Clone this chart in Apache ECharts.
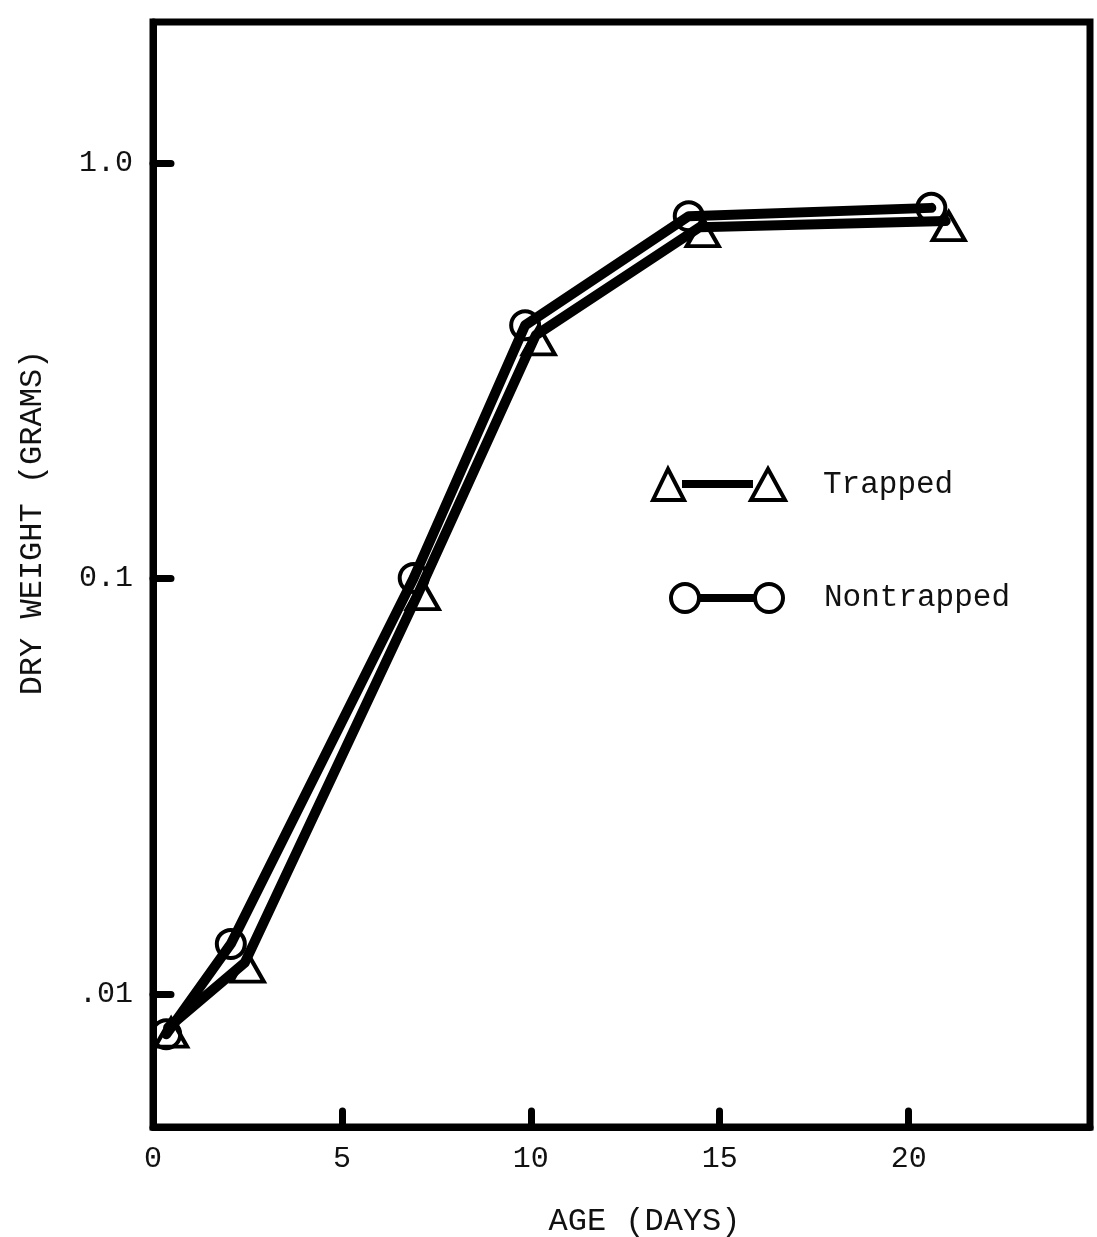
<!DOCTYPE html>
<html><head><meta charset="utf-8">
<script src="https://cdn.jsdelivr.net/npm/echarts@6/dist/echarts.min.js"></script>
<style>html,body{margin:0;padding:0;background:#fff}#c{width:1097px;height:1237px}</style>
</head><body><div id="c"></div>
<script>
// Data
const trappedDays = [0.4, 2.43, 7.06, 10.13, 14.47, 20.98];
const trappedWeight = [0.0083, 0.0119, 0.0938, 0.385, 0.701, 0.725];
const nontrappedDays = [0.35, 2.06, 6.9, 9.85, 14.18, 20.6];
const nontrappedWeight = [0.0080, 0.0132, 0.1003, 0.407, 0.745, 0.78];
const seriesNames = ['Trapped', 'Nontrapped'];
const xTickValues = [0, 5, 10, 15, 20];
const yTickValues = [0.01, 0.1, 1];
const yTickLabels = ['.01', '0.1', '1.0'];
const xAxisTitle = 'AGE (DAYS)';
const yAxisTitle = 'DRY WEIGHT (GRAMS)';

const FONT = "'Liberation Mono', 'DejaVu Sans Mono', monospace";
const INK = '#000';

function pairs(xs, ys) { return xs.map((x, i) => [x, ys[i]]); }
function yLabel(v) {
  let best = 0, bd = Infinity;
  yTickValues.forEach((t, i) => { const d = Math.abs(Math.log10(v) - Math.log10(t)); if (d < bd) { bd = d; best = i; } });
  return yTickLabels[best];
}

const triIcon = 'path://M2,33 L17,2 L33,33 Z M33,15 L100,15 L100,19 L33,19 Z M100,33 L117,2 L134,33 Z';
const cirIcon = 'path://M29,16 A14,14 0 1 0 1,16 A14,14 0 1 0 29,16 Z M29,14 L85,14 L85,18 L29,18 Z M113,16 A14,14 0 1 0 85,16 A14,14 0 1 0 113,16 Z';

const chart = echarts.init(document.getElementById('c'), null, {renderer: 'canvas'});
chart.setOption({
  backgroundColor: '#fff',
  animation: false,
  grid: {left: 153, right: 7, top: 22, bottom: 110, containLabel: false, outerBoundsMode: 'none',
         show: true, borderColor: INK, borderWidth: 7, backgroundColor: 'transparent'},
  legend: [
    {
      data: [{name: seriesNames[0], icon: triIcon}],
      left: 651, top: 467, padding: 0, orient: 'vertical',
      itemWidth: 132, itemHeight: 31, selectedMode: false,
      itemStyle: {color: 'transparent', borderColor: INK, borderWidth: 4},
      textStyle: {fontFamily: FONT, fontSize: 31, color: '#111', padding: [0, 0, 0, 33]}
    },
    {
      data: [{name: seriesNames[1], icon: cirIcon}],
      left: 669, top: 582, padding: 0, orient: 'vertical',
      itemWidth: 112, itemHeight: 28, selectedMode: false,
      itemStyle: {color: 'transparent', borderColor: INK, borderWidth: 4},
      textStyle: {fontFamily: FONT, fontSize: 31, color: '#111', padding: [0, 0, 0, 36]}
    }
  ],
  xAxis: {
    type: 'value', min: 0, max: 24.8, interval: 5,
    name: xAxisTitle, nameLocation: 'middle', nameGap: 79,
    nameTextStyle: {fontFamily: FONT, fontSize: 32, color: '#111', padding: [0, 0, 0, 46]},
    axisLine: {show: true, lineStyle: {color: INK, width: 7}},
    axisTick: {show: true, inside: true, length: 16, customValues: xTickValues, lineStyle: {color: INK, width: 7, cap: 'round'}},
    axisLabel: {show: true, margin: 17, customValues: xTickValues, fontFamily: FONT, fontSize: 30, color: '#111'},
    splitLine: {show: false}
  },
  yAxis: {
    type: 'log', logBase: 10, min: 0.004786, max: 2.185,
    name: yAxisTitle, nameLocation: 'middle', nameGap: 104, nameRotate: 90,
    nameTextStyle: {fontFamily: FONT, fontSize: 32, color: '#111', padding: [0, 0, 0, 104]},
    axisLine: {show: true, lineStyle: {color: INK, width: 7}},
    axisTick: {show: true, inside: true, length: 18, customValues: yTickValues, lineStyle: {color: INK, width: 7, cap: 'round'}},
    axisLabel: {show: true, margin: 20, customValues: yTickValues, formatter: yLabel, fontFamily: FONT, fontSize: 30, color: '#111'},
    splitLine: {show: false}, minorTick: {show: false}
  },
  series: [
    {
      name: seriesNames[0], type: 'line', data: pairs(trappedDays, trappedWeight),
      symbol: 'triangle', symbolSize: [32, 28], symbolOffset: [3, 5], showAllSymbol: true,
      lineStyle: {color: INK, width: 10, cap: 'round', join: 'round'},
      itemStyle: {color: 'transparent', borderColor: INK, borderWidth: 4},
      emphasis: {disabled: true}, z: 2
    },
    {
      name: seriesNames[1], type: 'line', data: pairs(nontrappedDays, nontrappedWeight),
      symbol: 'circle', symbolSize: 28, showAllSymbol: true,
      lineStyle: {color: INK, width: 10, cap: 'round', join: 'round'},
      itemStyle: {color: 'transparent', borderColor: INK, borderWidth: 4},
      emphasis: {disabled: true}, z: 3
    }
  ]
});
</script>
</body></html>
